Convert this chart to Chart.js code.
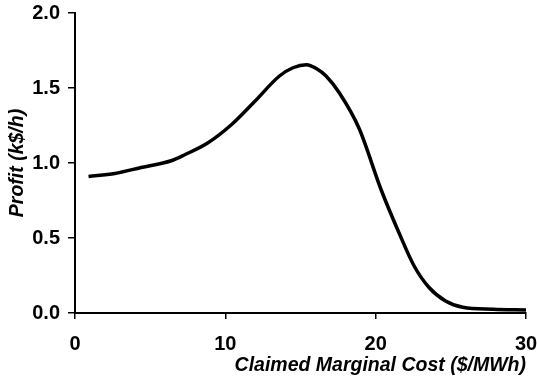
<!DOCTYPE html>
<html>
<head>
<meta charset="utf-8">
<script src="https://cdn.jsdelivr.net/npm/chart.js@4"></script>
<style>
  html, body { margin: 0; padding: 0; background: #fff; }
  #wrap { width: 537px; height: 385px; }
</style>
</head>
<body>
<div id="wrap"><canvas id="profitChart" width="537" height="385"></canvas></div>
<script>
// Claimed marginal cost ($/MWh)
const costs = [0.9, 2.65, 4.4, 6.4, 7.3, 8.85, 10.4, 11.95, 13.6, 14.5, 15.4, 16.05, 16.7, 17.6, 18.9, 20.35, 21.55, 22.55, 23.55, 24.65, 25.8, 27.8, 30.0];
// Profit (k$/h)
const profits = [0.91, 0.93, 0.97, 1.015, 1.055, 1.135, 1.255, 1.41, 1.58, 1.635, 1.655, 1.63, 1.58, 1.465, 1.23, 0.825, 0.535, 0.315, 0.17, 0.08, 0.038, 0.025, 0.02];
const xTicks = [0, 10, 20, 30];
const yTicks = [0, 0.5, 1.0, 1.5, 2.0];

const points = costs.map((c, i) => ({ x: c, y: profits[i] }));

const tickFont = { family: "'Liberation Sans', Arial, sans-serif", size: 20, weight: "bold" };
const titleFont = { family: "'Liberation Sans', Arial, sans-serif", size: 19.5, weight: "bold", style: "italic" };

new Chart(document.getElementById("profitChart").getContext("2d"), {
  type: "line",
  data: {
    datasets: [{
      data: points,
      borderColor: "#000",
      borderWidth: 3.5,
      pointRadius: 0,
      fill: false,
      cubicInterpolationMode: "monotone"
    }]
  },
  options: {
    responsive: false,
    animation: false,
    layout: { padding: { top: 13, right: 11, left: 0, bottom: 0 } },
    plugins: { legend: { display: false }, tooltip: { enabled: false } },
    scales: {
      x: {
        type: "linear",
        min: xTicks[0],
        max: xTicks[xTicks.length - 1],
        afterFit: s => { s.height = 72; s.paddingLeft = 0; s.paddingRight = 0; },
        afterBuildTicks: s => { s.ticks = xTicks.map(v => ({ value: v })); },
        border: { color: "#000", width: 2 },
        grid: { drawOnChartArea: false, drawTicks: true, tickLength: 6, color: "#000", lineWidth: 1.5 },
        ticks: { color: "#000", font: tickFont, padding: 13, maxRotation: 0 },
        title: {
          display: true,
          text: "Claimed Marginal Cost ($/MWh)",
          align: "end",
          color: "#000",
          font: titleFont,
          padding: { top: 0, bottom: 8 }
        }
      },
      y: {
        min: yTicks[0],
        max: yTicks[yTicks.length - 1],
        afterFit: s => { s.width = 75; s.paddingTop = 0; s.paddingBottom = 0; },
        afterBuildTicks: s => { s.ticks = yTicks.map(v => ({ value: v })); },
        border: { color: "#000", width: 2 },
        grid: { drawOnChartArea: false, drawTicks: true, tickLength: 7, color: "#000", lineWidth: 1.5 },
        ticks: { color: "#000", font: tickFont, padding: 8, callback: v => v.toFixed(1) },
        title: {
          display: true,
          text: "Profit (k$/h)",
          color: "#000",
          font: titleFont,
          padding: { top: 6, bottom: 0 }
        }
      }
    }
  }
});
</script>
</body>
</html>
